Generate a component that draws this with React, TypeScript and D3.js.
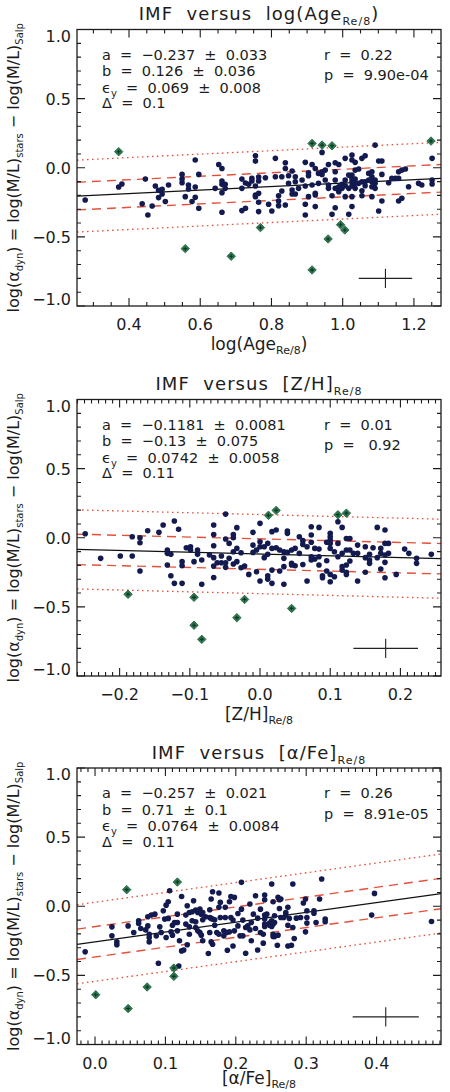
import React, { useEffect, useRef } from "react";
import * as d3 from "d3";

type Pt = [number, number];

// log(Age) panel: galaxies kept by the fit
const agePoints: Pt[] = [
  [0.277, -0.233], [0.371, -0.139], [0.380, -0.118], [0.437, -0.260], [0.446, -0.082], [0.453, -0.342],
  [0.465, -0.277], [0.474, -0.132], [0.483, -0.163], [0.483, -0.216], [0.493, -0.156], [0.493, -0.190],
  [0.502, -0.245], [0.511, -0.125], [0.549, -0.048], [0.549, -0.082], [0.549, -0.108], [0.558, -0.209],
  [0.567, -0.125], [0.567, -0.154], [0.577, -0.245], [0.586, 0.056], [0.586, -0.139], [0.586, -0.214],
  [0.596, -0.048], [0.596, -0.293], [0.642, -0.149], [0.652, 0.024], [0.661, -0.005], [0.661, -0.096],
  [0.661, -0.120], [0.661, -0.180], [0.661, -0.322], [0.670, -0.120], [0.670, -0.149], [0.717, -0.082],
  [0.717, -0.149], [0.717, -0.310], [0.727, -0.110], [0.727, -0.293], [0.736, -0.120], [0.745, -0.077],
  [0.745, -0.096], [0.755, 0.087], [0.755, 0.048], [0.755, -0.132], [0.755, -0.197], [0.755, -0.209],
  [0.764, -0.067], [0.764, -0.096], [0.764, -0.185], [0.764, -0.250], [0.764, -0.317],
  [0.783, -0.072], [0.792, -0.264], [0.801, -0.313], [0.811, 0.068], [0.811, -0.065], [0.820, -0.202],
  [0.820, -0.240], [0.820, -0.274], [0.829, -0.065], [0.829, -0.168], [0.839, 0.036], [0.839, -0.005],
  [0.839, -0.269], [0.848, -0.058], [0.848, -0.113], [0.858, -0.024], [0.858, -0.161], [0.858, -0.190],
  [0.867, -0.065], [0.867, -0.101], [0.867, -0.190], [0.876, -0.149], [0.886, -0.089], [0.895, 0.039],
  [0.895, -0.132], [0.895, -0.264], [0.895, -0.342], [0.904, -0.036], [0.904, -0.058], [0.904, -0.209],
  [0.914, 0.024], [0.914, -0.125], [0.923, -0.005], [0.923, -0.185], [0.923, -0.197], [0.923, -0.281],
  [0.932, -0.041], [0.932, -0.113], [0.942, 0.111], [0.942, -0.029], [0.942, -0.048], [0.951, -0.017],
  [0.951, -0.089], [0.960, 0.024], [0.960, -0.125], [0.960, -0.149], [0.970, -0.202], [0.970, -0.337],
  [0.979, 0.036], [0.979, -0.029], [0.979, -0.089], [0.979, -0.149], [0.979, -0.289], [0.989, 0.024],
  [0.989, -0.137], [0.989, -0.173], [0.998, -0.120], [0.998, -0.149], [1.007, 0.068], [1.007, -0.089],
  [1.007, -0.130], [1.007, -0.209], [1.017, -0.053], [1.017, -0.149], [1.017, -0.337], [1.026, 0.092],
  [1.026, 0.056], [1.026, -0.053], [1.026, -0.077], [1.026, -0.101], [1.026, -0.132], [1.026, -0.209],
  [1.026, -0.281], [1.035, 0.039], [1.035, -0.017], [1.035, -0.082], [1.035, -0.113], [1.035, -0.149],
  [1.045, -0.009], [1.045, -0.113], [1.054, 0.068], [1.054, -0.101], [1.054, -0.166], [1.054, -0.202],
  [1.063, 0.087], [1.063, -0.101], [1.063, -0.130], [1.073, -0.041], [1.073, -0.089], [1.082, -0.029],
  [1.082, -0.065], [1.082, -0.101], [1.082, -0.137], [1.082, -0.209], [1.091, 0.164], [1.091, -0.089],
  [1.091, -0.113], [1.091, -0.149], [1.101, 0.048], [1.101, -0.313], [1.110, 0.048], [1.110, -0.048],
  [1.110, -0.240], [1.129, -0.108], [1.138, -0.077], [1.148, -0.077], [1.157, -0.029], [1.157, -0.077],
  [1.157, -0.240], [1.166, -0.017], [1.166, -0.221], [1.176, -0.009], [1.185, -0.137], [1.213, -0.113],
  [1.222, -0.125], [1.251, 0.068], [1.251, -0.089], [1.251, -0.118],
];
// log(Age) panel: clipped outliers
const ageOutliers: Pt[] = [
  [0.371, 0.116], [0.558, -0.585], [0.687, -0.640], [0.769, -0.433], [0.914, 0.176], [0.942, 0.164],
  [0.970, 0.159], [1.248, 0.193], [0.994, -0.412], [1.006, -0.450], [0.959, -0.515], [0.914, -0.739],
];

// [Z/H] panel
const zhPoints: Pt[] = [
  [-0.249, 0.029], [-0.227, -0.149], [-0.199, -0.132], [-0.182, 0.007], [-0.182, -0.132], [-0.171, 0.000],
  [-0.171, -0.036], [-0.171, -0.241], [-0.160, 0.051], [-0.144, 0.039], [-0.138, 0.092], [-0.132, -0.089],
  [-0.132, -0.113], [-0.132, -0.197], [-0.127, -0.120], [-0.127, -0.275], [-0.122, 0.121], [-0.122, -0.330],
  [-0.116, 0.061], [-0.111, -0.173], [-0.111, -0.202], [-0.111, -0.330], [-0.105, -0.072], [-0.099, -0.065],
  [-0.099, -0.089], [-0.094, -0.173], [-0.089, -0.089], [-0.089, -0.120], [-0.083, -0.161], [-0.083, -0.337],
  [-0.072, -0.125], [-0.066, 0.092], [-0.066, 0.024], [-0.066, -0.058], [-0.066, -0.144], [-0.066, -0.205],
  [-0.066, -0.287], [-0.061, -0.181], [-0.055, -0.132], [-0.055, -0.181], [-0.049, 0.171], [-0.049, -0.009],
  [-0.049, -0.181], [-0.049, -0.214], [-0.044, -0.041], [-0.044, -0.149], [-0.038, 0.024], [-0.038, 0.000],
  [-0.038, -0.101], [-0.038, -0.190], [-0.033, 0.073], [-0.033, -0.077], [-0.033, -0.173], [-0.027, -0.108],
  [-0.027, -0.217], [-0.022, -0.205], [-0.016, -0.265], [-0.010, 0.039], [-0.010, -0.053], [-0.010, -0.106],
  [-0.005, -0.089], [-0.005, -0.246], [0.000, 0.104], [0.000, -0.029], [0.000, -0.065], [0.000, -0.313],
  [0.006, -0.065], [0.006, -0.144], [0.011, -0.041], [0.011, -0.120], [0.011, -0.275], [0.011, -0.299],
  [0.017, 0.044], [0.017, -0.077], [0.017, -0.234], [0.017, -0.330], [0.023, 0.056], [0.023, -0.072],
  [0.028, -0.089], [0.028, -0.241], [0.034, -0.101], [0.034, -0.149], [0.034, -0.209], [0.034, -0.337],
  [0.039, 0.048], [0.039, 0.032], [0.039, -0.106], [0.045, -0.089], [0.045, -0.185], [0.045, -0.197],
  [0.050, -0.077], [0.050, -0.202], [0.056, 0.007], [0.056, -0.113], [0.061, -0.021], [0.061, -0.048],
  [0.061, -0.193], [0.067, -0.065], [0.067, -0.313], [0.073, 0.080], [0.073, 0.020], [0.073, -0.033],
  [0.073, -0.137], [0.073, -0.161], [0.078, -0.077], [0.078, -0.154], [0.084, 0.075], [0.084, -0.082],
  [0.084, -0.137], [0.084, -0.197], [0.089, -0.275], [0.089, -0.289], [0.095, -0.033], [0.095, -0.166],
  [0.095, -0.241], [0.100, 0.032], [0.100, 0.007], [0.100, -0.017], [0.100, -0.041], [0.100, -0.077],
  [0.100, -0.265], [0.100, -0.318], [0.106, -0.101], [0.106, -0.282], [0.111, 0.116], [0.111, -0.041],
  [0.111, -0.137], [0.117, 0.075], [0.117, -0.113], [0.117, -0.209], [0.117, -0.234], [0.123, -0.005],
  [0.123, -0.089], [0.123, -0.197], [0.123, -0.250], [0.123, -0.265], [0.128, -0.005], [0.128, -0.089],
  [0.128, -0.168], [0.133, -0.113], [0.139, -0.053], [0.139, -0.113], [0.139, -0.313], [0.150, -0.065],
  [0.150, -0.144], [0.150, -0.250], [0.156, -0.120], [0.156, -0.161], [0.156, -0.185], [0.161, -0.072],
  [0.167, 0.075], [0.167, -0.144], [0.172, -0.077], [0.172, -0.113], [0.172, -0.226], [0.178, 0.056],
  [0.178, -0.041], [0.178, -0.125], [0.178, -0.178], [0.178, -0.289], [0.183, -0.041], [0.183, -0.113],
  [0.194, -0.265], [0.206, -0.082], [0.212, -0.113], [0.223, -0.149], [0.223, -0.185], [0.244, -0.120],
];
const zhOutliers: Pt[] = [
  [-0.188, -0.409], [-0.094, -0.431], [-0.094, -0.633], [-0.083, -0.735], [-0.033, -0.578], [-0.022, -0.446],
  [0.012, 0.162], [0.023, 0.198], [0.111, 0.166], [0.123, 0.178], [0.045, -0.511],
];

// [alpha/Fe] panel
const afePoints: Pt[] = [
  [-0.014, -0.330], [0.024, -0.149], [0.024, -0.214], [0.031, -0.258], [0.031, -0.279], [0.047, -0.142],
  [0.055, -0.190], [0.062, -0.105], [0.062, -0.125], [0.065, -0.161], [0.072, -0.171], [0.075, -0.076],
  [0.075, -0.142], [0.077, -0.202], [0.077, -0.226], [0.077, -0.258], [0.080, -0.064], [0.085, -0.057],
  [0.087, -0.214], [0.090, -0.412], [0.092, -0.149], [0.094, -0.190], [0.097, -0.033], [0.099, -0.093],
  [0.101, 0.008], [0.101, -0.226], [0.104, 0.033], [0.104, -0.088], [0.106, 0.112], [0.108, -0.185],
  [0.110, -0.137], [0.110, -0.209], [0.113, -0.117], [0.117, -0.057], [0.119, -0.432], [0.117, -0.117],
  [0.117, -0.178], [0.120, -0.250], [0.123, 0.071], [0.123, -0.323], [0.126, -0.316], [0.129, -0.064],
  [0.129, -0.129], [0.131, 0.004], [0.131, -0.279], [0.134, -0.045], [0.134, -0.149], [0.134, -0.202],
  [0.138, -0.040], [0.138, -0.105], [0.140, 0.040], [0.143, -0.028], [0.143, -0.112], [0.143, -0.154],
  [0.146, -0.045], [0.146, -0.178], [0.149, -0.021], [0.149, -0.190], [0.151, -0.057], [0.151, -0.209],
  [0.153, -0.045], [0.153, -0.098], [0.153, -0.250], [0.157, -0.076], [0.161, -0.342], [0.163, -0.025],
  [0.163, -0.081], [0.163, -0.190], [0.165, 0.052], [0.165, -0.088], [0.165, -0.258], [0.167, 0.105],
  [0.167, -0.093], [0.167, -0.275], [0.170, -0.098], [0.170, -0.137], [0.173, -0.190], [0.176, 0.096],
  [0.176, -0.008], [0.176, -0.202], [0.178, 0.028], [0.178, -0.081], [0.183, -0.178], [0.183, -0.214],
  [0.185, -0.008], [0.185, -0.081], [0.187, -0.190], [0.188, -0.318], [0.191, 0.033], [0.191, -0.185],
  [0.193, 0.071], [0.193, -0.081], [0.196, -0.100], [0.196, -0.287], [0.198, 0.064], [0.198, -0.178],
  [0.203, -0.052], [0.203, -0.142], [0.206, -0.214], [0.208, 0.173], [0.208, -0.021], [0.210, -0.100],
  [0.210, -0.214], [0.214, -0.340], [0.214, -0.154], [0.217, -0.142], [0.220, 0.016], [0.220, -0.171],
  [0.222, -0.117], [0.222, -0.250], [0.225, -0.057], [0.228, 0.076], [0.228, -0.161], [0.231, -0.086],
  [0.231, -0.316], [0.235, -0.021], [0.235, -0.190], [0.239, -0.202], [0.239, -0.267], [0.241, 0.081],
  [0.241, 0.047], [0.241, -0.064], [0.241, -0.093], [0.241, -0.129], [0.241, -0.146], [0.244, -0.057],
  [0.248, -0.122], [0.248, -0.137], [0.251, 0.161], [0.251, -0.105], [0.251, -0.146], [0.253, 0.033],
  [0.253, -0.129], [0.253, -0.202], [0.253, -0.219], [0.255, -0.069], [0.255, -0.117], [0.255, -0.219],
  [0.259, -0.282], [0.260, 0.064], [0.260, -0.209], [0.262, 0.047], [0.262, -0.016], [0.264, 0.052],
  [0.264, -0.081], [0.268, -0.081], [0.271, -0.045], [0.271, -0.064], [0.274, -0.008], [0.274, -0.137],
  [0.274, -0.287], [0.276, -0.088], [0.279, -0.282], [0.281, 0.161], [0.281, -0.154], [0.283, -0.233],
  [0.286, -0.086], [0.292, -0.081], [0.296, 0.023], [0.299, 0.052], [0.299, -0.185], [0.301, -0.033],
  [0.301, -0.081], [0.301, -0.122], [0.311, -0.033], [0.311, -0.050], [0.314, -0.117], [0.319, 0.052],
  [0.322, 0.197], [0.327, -0.093], [0.327, -0.112], [0.393, -0.064], [0.397, 0.093], [0.478, -0.110],
];
const afeOutliers: Pt[] = [
  [0.045, 0.120], [0.117, 0.175], [0.001, -0.640], [0.047, -0.740], [0.074, -0.584], [0.112, -0.447],
  [0.112, -0.507],
];

// lts_linefit results: y = a + b*x, rms scatter delta, 2.6 sigma clipping
const fitA = [-0.237, -0.1181, -0.257];
const fitB = [0.126, -0.13, 0.71];
const fitDelta = [0.1, 0.11, 0.11];
const clipSigma = 2.6;

const statLines = [
  ["a  =  \u22120.237  ±  0.033", "b  =  0.126  ±  0.036", "  =  0.069  ±  0.008", "Δ  =  0.1"],
  ["a  =  \u22120.1181  ±  0.0081", "b  =  \u22120.13  ±  0.075", "  =  0.0742  ±  0.0058", "Δ  =  0.11"],
  ["a  =  \u22120.257  ±  0.021", "b  =  0.71  ±  0.1", "  =  0.0764  ±  0.0084", "Δ  =  0.11"],
];
const corrR = ["r  =  0.22", "r  =  0.01", "r  =  0.26"];
const corrP = ["p  =  9.90e-04", "p  =   0.92", "p  =  8.91e-05"];

const xNames = ["log(Age", "[Z/H]", "[α/Fe]"];
const xDomains: Pt[] = [[0.254, 1.276], [-0.2607, 0.2578], [-0.0256, 0.4915]];
const xMajor = [
  [0.4, 0.6, 0.8, 1.0, 1.2],
  [-0.2, -0.1, 0.0, 0.1, 0.2],
  [0.0, 0.1, 0.2, 0.3, 0.4],
];
const xMinorStep = [0.05, 0.01, 0.01];
const yMajor = [-1, -0.5, 0, 0.5, 1];

// typical uncertainties (cross in the lower right)
const errCenter: Pt[] = [[1.12, -0.8], [0.179, -0.8], [0.413, -0.8]];
const errSize: Pt[] = [[0.075, 0.07], [0.046, 0.07], [0.047, 0.07]];

const panelTops = [29.5, 399.5, 768];
const xLabelGap = [44, 44, 39];
const plotH = 276.5;
const left = 77;
const right = 441;

const FONT = "'DejaVu Sans', sans-serif";
const INK = "#1c1c1c";
const RED = "#e4503a";

// keep runs of spaces in svg text
const nb = (s: string) => s.replace(/ /g, "\u00a0");

function rich(text: any, parts: [string, boolean][], subSize: number, shift: number) {
  let down = false;
  parts.forEach(([s, sub]) => {
    const t = text.append("tspan").text(nb(s));
    if (sub) {
      t.attr("font-size", subSize);
      if (!down) { t.attr("dy", shift); down = true; }
    } else if (down) {
      t.attr("dy", -shift);
      down = false;
    }
  });
}

function drawPanel(svg: any, i: number) {
  const top = panelTops[i];
  const bottom = top + plotH;
  const pts = [agePoints, zhPoints, afePoints][i];
  const outl = [ageOutliers, zhOutliers, afeOutliers][i];
  const x = d3.scaleLinear().domain(xDomains[i]).range([left, right]);
  const y = d3.scaleLinear().domain([-1, 1]).range([bottom, top]);
  const g = svg.append("g");

  const clipId = "clip" + i;
  g.append("clipPath").attr("id", clipId)
    .append("rect").attr("x", left).attr("y", top).attr("width", right - left).attr("height", plotH);
  const inner = g.append("g").attr("clip-path", `url(#${clipId})`);

  const fitLine = (off: number) =>
    d3.line()(xDomains[i].map((v) => [x(v), y(fitA[i] + fitB[i] * v + off)] as [number, number]));

  [clipSigma, -clipSigma].forEach((k) =>
    inner.append("path").attr("d", fitLine(k * fitDelta[i]))
      .attr("fill", "none").attr("stroke", RED).attr("stroke-width", 1.3)
      .attr("stroke-dasharray", "1.6,3.4"));
  [1, -1].forEach((k) =>
    inner.append("path").attr("d", fitLine(k * fitDelta[i]))
      .attr("fill", "none").attr("stroke", RED).attr("stroke-width", 1.4)
      .attr("stroke-dasharray", "9,6"));
  inner.append("path").attr("d", fitLine(0))
    .attr("fill", "none").attr("stroke", "#111").attr("stroke-width", 1.2);

  inner.selectAll("circle.gal").data(pts).join("circle")
    .attr("class", "gal")
    .attr("cx", (d: Pt) => x(d[0])).attr("cy", (d: Pt) => y(d[1]))
    .attr("r", 2.8).attr("fill", "#121a50");

  const diamond = d3.symbol().type(d3.symbolDiamond2).size(46);
  const og = inner.selectAll("g.out").data(outl).join("g")
    .attr("class", "out")
    .attr("transform", (d: Pt) => `translate(${x(d[0])},${y(d[1])})`);
  og.append("path").attr("d", diamond()).attr("fill", "#2f7d52").attr("stroke", "#1d5b39").attr("stroke-width", 0.8);
  og.append("path").attr("d", "M-2,0H2M0,-2V2").attr("stroke", "#0d3520").attr("stroke-width", 1.1);

  // error cross
  const [ex, ey] = errCenter[i];
  const [sx, sy] = errSize[i];
  g.append("path")
    .attr("d", `M${x(ex - sx)},${y(ey)}H${x(ex + sx)}M${x(ex)},${y(ey - sy)}V${y(ey + sy)}`)
    .attr("stroke", "#222").attr("stroke-width", 1.1).attr("fill", "none");

  // frame and ticks
  g.append("rect").attr("x", left).attr("y", top).attr("width", right - left).attr("height", plotH)
    .attr("fill", "none").attr("stroke", INK).attr("stroke-width", 1.3);

  const ticks: string[] = [];
  const step = xMinorStep[i];
  const d0 = Math.ceil(xDomains[i][0] / step - 1e-6);
  const d1 = Math.floor(xDomains[i][1] / step + 1e-6);
  d3.range(d0, d1 + 1).forEach((k) => {
    const v = k * step;
    const major = xMajor[i].some((m) => Math.abs(m - v) < 1e-6);
    const len = major ? 8 : 4;
    const px = x(v);
    ticks.push(`M${px},${bottom}V${bottom - len}M${px},${top}V${top + len}`);
  });
  d3.range(-10, 11).forEach((k) => {
    const v = k / 10;
    const len = k % 5 === 0 ? 8 : 4;
    const py = y(v);
    ticks.push(`M${left},${py}H${left + len}M${right},${py}H${right - len}`);
  });
  g.append("path").attr("d", ticks.join("")).attr("stroke", INK).attr("stroke-width", 1.1);

  const fmt = d3.format(".1f");
  g.selectAll("text.xt").data(xMajor[i]).join("text")
    .attr("class", "xt")
    .attr("x", (d: number) => x(d)).attr("y", bottom + 24)
    .attr("text-anchor", "middle").attr("font-size", 16)
    .text((d: number) => fmt(d));
  g.selectAll("text.yt").data(yMajor).join("text")
    .attr("class", "yt")
    .attr("x", left - 6)
    .attr("y", (d: number) => y(d) + (d === 1 ? 12 : d === -1 ? -1 : 6))
    .attr("text-anchor", "end").attr("font-size", 16)
    .text((d: number) => fmt(d));

  // fit statistics
  const lines = statLines[i];
  const rows = [30, 46.5, 63, 78.5];
  lines.forEach((s, r) => {
    const t = g.append("text").attr("x", left + 25).attr("y", top + rows[r]).attr("font-size", 14.5);
    if (r === 2) rich(t, [["ϵ", false], ["y", true], [s, false]], 10, 4);
    else t.text(nb(s));
  });
  [corrR[i], corrP[i]].forEach((s, r) =>
    g.append("text").attr("x", left + 247).attr("y", top + [30, 50.5][r])
      .attr("font-size", 14.5).text(nb(s)));

  // titles
  const mid = (left + right) / 2;
  const closing = i === 0 ? ")" : "";
  const title = g.append("text").attr("x", mid).attr("y", top - 9.5)
    .attr("text-anchor", "middle").attr("font-size", 18).attr("letter-spacing", 1.05);
  rich(title, [["IMF  versus  " + xNames[i], false], ["Re/8", true], [closing, false]], 11, 5);

  const xl = g.append("text").attr("x", mid).attr("y", bottom + xLabelGap[i])
    .attr("text-anchor", "middle").attr("font-size", 17);
  rich(xl, [[xNames[i], false], ["Re/8", true], [closing, false]], 11, 4);

  const yl = g.append("text")
    .attr("transform", `translate(19,${(top + bottom) / 2}) rotate(-90)`)
    .attr("text-anchor", "middle").attr("font-size", 16);
  rich(yl, [
    ["log(α", false], ["dyn", true], [") = log(M/L)", false], ["stars", true],
    [" \u2212 log(M/L)", false], ["Salp", true],
  ], 10, 4);
}

export default function App() {
  const ref = useRef<HTMLDivElement>(null);

  useEffect(() => {
    const root = d3.select(ref.current);
    root.selectAll("*").remove();
    const svg = root.append("svg")
      .attr("width", 450).attr("height", 1092)
      .style("position", "absolute").style("left", 0).style("top", 0)
      .style("background", "#fff")
      .attr("font-family", FONT).attr("fill", INK);
    [0, 1, 2].forEach((i) => drawPanel(svg, i));
  }, []);

  return <div ref={ref}></div>;
}
